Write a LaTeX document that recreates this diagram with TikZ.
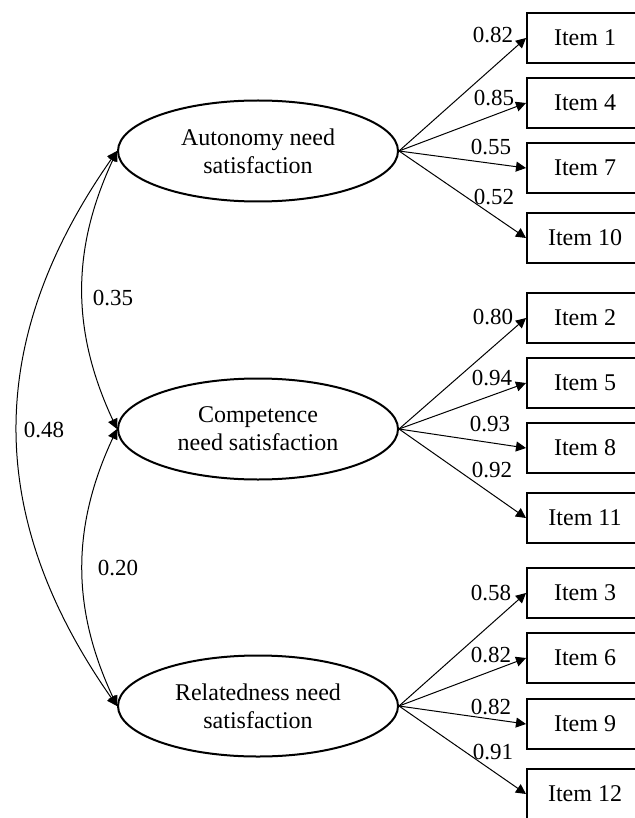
\documentclass[tikz,border=0pt]{standalone}
\usepackage{fontspec}
\setmainfont{Liberation Serif}
\usepackage{tikz}
\usetikzlibrary{arrows.meta,shapes.geometric}

\tikzset{
	latent/.style={draw, ellipse, line width=1pt, minimum width=140pt, minimum height=50.5pt, inner sep=0pt, align=center, font=\fontsize{12}{14}\selectfont},
	item/.style={draw, rectangle, line width=1pt, minimum width=58pt, minimum height=25pt, font=\fontsize{12}{14}\selectfont},
	load/.style={-{Triangle[length=5pt,width=5pt]}, line width=0.5pt},
	cov/.style={{Triangle[length=5pt,width=5pt]}-{Triangle[length=5pt,width=5pt]}, line width=0.5pt},
	coef/.style={inner sep=0pt, font=\fontsize{11.5}{13}\selectfont},
}

\begin{document}
\begin{tikzpicture}[x=0.5pt,y=0.5pt]
				\useasboundingbox (0,0) rectangle (635,-818);
				\clip (0,0) rectangle (635,-818);
				\node[latent] (aut) at (258,-151) {Autonomy need\\satisfaction};
				\node[latent] (com) at (258,-429) {Competence\\need satisfaction};
				\node[latent] (rel) at (258,-706) {Relatedness need\\satisfaction};
				\node[item] (i1) at (585,-38) {Item 1};
				\node[item] (i4) at (585,-103) {Item 4};
				\node[item] (i7) at (585,-168) {Item 7};
				\node[item] (i10) at (585,-238) {Item 10};
				\node[item] (i2) at (585,-318) {Item 2};
				\node[item] (i5) at (585,-383) {Item 5};
				\node[item] (i8) at (585,-448) {Item 8};
				\node[item] (i11) at (585,-518) {Item 11};
				\node[item] (i3) at (585,-593) {Item 3};
				\node[item] (i6) at (585,-658) {Item 6};
				\node[item] (i9) at (585,-724) {Item 9};
				\node[item] (i12) at (585,-794) {Item 12};
				\draw[load] (aut.east) to (i1.west);
				\draw[load] (aut.east) to (i4.west);
				\draw[load] (aut.east) to (i7.west);
				\draw[load] (aut.east) to (i10.west);
				\draw[load] (com.east) to (i2.west);
				\draw[load] (com.east) to (i5.west);
				\draw[load] (com.east) to (i8.west);
				\draw[load] (com.east) to (i11.west);
				\draw[load] (rel.east) to (i3.west);
				\draw[load] (rel.east) to (i6.west);
				\draw[load] (rel.east) to (i9.west);
				\draw[load] (rel.east) to (i12.west);
				\node[coef] (l1) at (493,-35) {0.82};
				\node[coef] (l4) at (494,-98) {0.85};
				\node[coef] (l7) at (491,-147) {0.55};
				\node[coef] (l10) at (494,-197) {0.52};
				\node[coef] (l2) at (493,-317) {0.80};
				\node[coef] (l5) at (492,-378) {0.94};
				\node[coef] (l8) at (490,-424) {0.93};
				\node[coef] (l11) at (492,-470) {0.92};
				\node[coef] (l3) at (491,-593) {0.58};
				\node[coef] (l6) at (491,-655) {0.82};
				\node[coef] (l9) at (491,-707) {0.82};
				\node[coef] (l12) at (493,-752) {0.91};
				\draw[cov] (aut.west) to[out=245,in=115] (com.west);
				\draw[cov] (com.west) to[out=245,in=115] (rel.west);
				\draw[cov] (aut.west) to[out=235,in=125,looseness=1.07] (rel.west);
				\node[coef] (c35) at (113,-298) {0.35};
				\node[coef] (c20) at (118,-568) {0.20};
				\node[coef] (c48) at (44,-430) {0.48};
	\end{tikzpicture}
\end{document}
